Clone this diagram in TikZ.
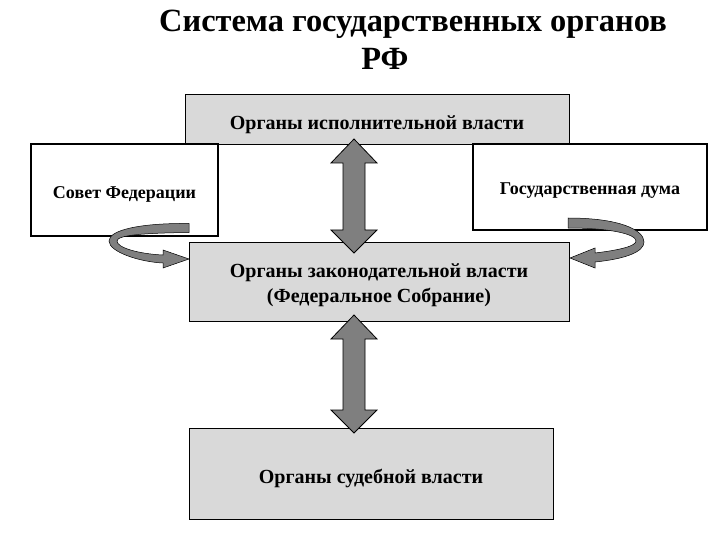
\documentclass[tikz,border=0pt]{standalone}
\usepackage{fontspec}
\setmainfont{Liberation Serif}
\definecolor{boxgray}{HTML}{D9D9D9}
\definecolor{arrowgray}{HTML}{7F7F7F}
\tikzset{
  graybox/.style={draw=black, line width=0.9pt, fill=boxgray, inner sep=0pt, font=\bfseries\fontsize{20}{25}\selectfont, align=center},
  whitebox/.style={draw=black, line width=2.4pt, fill=white, inner sep=0pt, font=\bfseries\fontsize{18}{22}\selectfont, align=center},
  fatarrow/.style={draw=black, line width=0.8pt, fill=arrowgray, line join=miter},
  curvearrow/.style={draw=black, line width=0.5pt, fill=arrowgray},
  titletext/.style={font=\bfseries\fontsize{32.4}{38}\selectfont, inner sep=0pt, anchor=base}
}
% lower a line of text without changing its box
\newcommand{\mylower}[2]{\raisebox{-#1}[\height][\depth]{#2}}
% #1 = centre x, #2 = top tip y, #3 = bottom tip y
\newcommand{\myfatdbl}[3]{%
  \path[fatarrow] (#1,#2) -- ({#1+23},{#2+24}) -- ({#1+11},{#2+24}) -- ({#1+11},{#3-23}) -- ({#1+23},{#3-23})
    -- (#1,#3) -- ({#1-23},{#3-23}) -- ({#1-11},{#3-23}) -- ({#1-11},{#2+24}) -- ({#1-23},{#2+24}) -- cycle;}
\begin{document}
\begin{tikzpicture}[x=1pt, y=-1pt]
\useasboundingbox (0,0) rectangle (720,540);
\fill[white] (0,0) rectangle (720,540);
% title
\node[titletext] (t1) at (413,32) {Система государственных органов};
\node[titletext] (t2) at (385,70) {РФ};
% gray boxes
\node[graybox, minimum width=384pt, minimum height=50pt] (exec) at (377,119) {\mylower{6pt}{Органы исполнительной власти}};
\node[graybox, minimum width=380pt, minimum height=79pt] (leg) at (379,281.5) {\mylower{4pt}{Органы законодательной власти}\\\mylower{4pt}{(Федеральное Собрание)}};
\node[graybox, minimum width=364pt, minimum height=91pt] (jud) at (371,473.5) {\mylower{4.5pt}{Органы судебной власти}};
% white boxes
\node[whitebox, minimum width=187pt, minimum height=92pt] (sf) at (124.5,190) {\mylower{4pt}{Совет Федерации}};
\node[whitebox, minimum width=234pt, minimum height=86pt] (gd) at (590,187) {\mylower{4pt}{Государственная дума}};
% double arrows
\myfatdbl{354}{139}{253}
\myfatdbl{354}{315}{433}
% curved arrows
\path[curvearrow] (189,223.5) .. controls (140,223) and (109,230) .. (109,241)
  .. controls (109,252) and (140,262) .. (163,263) -- (163,268) -- (189,259) -- (163,250) -- (163,255)
  .. controls (140,254) and (117,248) .. (117,241)
  .. controls (117,235) and (145,233) .. (189,232.5) -- cycle;
\path[curvearrow] (568,218) .. controls (620,218) and (644,230) .. (644,242)
  .. controls (644,252) and (625,259) .. (595,262) -- (595,268) -- (570,258) -- (595,248) -- (595,253)
  .. controls (620,250) and (636,246) .. (636,241)
  .. controls (636,234) and (610,228) .. (568,228) -- cycle;
\end{tikzpicture}
\end{document}
